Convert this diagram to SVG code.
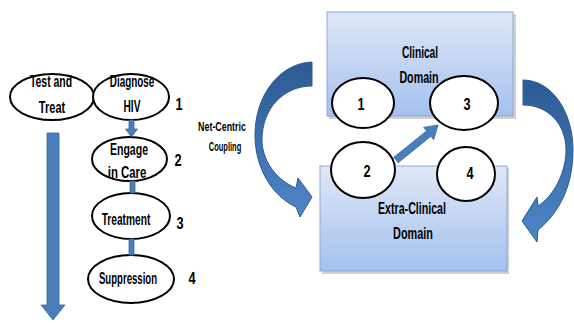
<svg xmlns="http://www.w3.org/2000/svg" width="574" height="323" viewBox="0 0 574 323">
<defs>
<linearGradient id="boxg" x1="0" y1="0" x2="0" y2="1">
<stop offset="0" stop-color="#dfe8f7"/>
<stop offset="1" stop-color="#a4c1ee"/>
</linearGradient>
<linearGradient id="curveL" x1="0" y1="0" x2="0" y2="1">
<stop offset="0" stop-color="#2c5a93"/>
<stop offset="1" stop-color="#4f86c8"/>
</linearGradient>
<linearGradient id="curveR" x1="0" y1="0" x2="0" y2="1">
<stop offset="0" stop-color="#2c5a93"/>
<stop offset="1" stop-color="#4f86c8"/>
</linearGradient>
<style>
.t{font-family:"Liberation Sans",Arial,sans-serif;font-weight:bold;font-size:17px;fill:#000;text-anchor:middle}
.s{font-family:"Liberation Sans",Arial,sans-serif;font-weight:bold;font-size:12.5px;fill:#000;text-anchor:middle}
.ell{fill:#fff;stroke:#000;stroke-width:2}
.box{fill:url(#boxg);stroke:#8fa9d2;stroke-width:1}
.shadow{fill:#9a9a9a;opacity:0.45}
.blue{fill:#4a7ebb;stroke:#3a679e;stroke-width:0.8}
</style>
</defs>
<rect width="574" height="323" fill="#fff"/>

<!-- Left chain nodes -->
<g id="test-and-treat">
<ellipse class="ell" cx="52" cy="97" rx="42" ry="23"/>
<text class="t" transform="translate(51,87) scale(0.615,1)">Test and</text>
<text class="t" transform="translate(52,113) scale(0.65,1)">Treat</text>
</g>
<g id="diagnose-hiv">
<ellipse class="ell" cx="131" cy="97" rx="38" ry="23"/>
<text class="t" transform="translate(132,87) scale(0.58,1)">Diagnose</text>
<text class="t" transform="translate(132,112) scale(0.6,1)">HIV</text>
<text class="t" transform="translate(179,110) scale(0.75,1)">1</text>
</g>
<g id="engage-in-care">
<ellipse class="ell" cx="129.5" cy="159" rx="37.5" ry="22"/>
<text class="t" transform="translate(129,155) scale(0.62,1)">Engage</text>
<text class="t" transform="translate(127,178) scale(0.67,1)">in Care</text>
<text class="t" transform="translate(178,166) scale(0.75,1)">2</text>
</g>
<g id="treatment">
<ellipse class="ell" cx="131" cy="216" rx="39" ry="23"/>
<text class="t" transform="translate(126,225) scale(0.6,1)">Treatment</text>
<text class="t" transform="translate(180,229) scale(0.75,1)">3</text>
</g>
<g id="suppression">
<ellipse class="ell" cx="131" cy="279" rx="43" ry="24"/>
<text class="t" transform="translate(128,284) scale(0.565,1)">Suppression</text>
<text class="t" transform="translate(192,284) scale(0.75,1)">4</text>
</g>

<g id="net-centric-label">
<text class="s" transform="translate(222,131) scale(0.71,1)">Net-Centric</text>
<text class="s" transform="translate(225,151) scale(0.6,1)">Coupling</text>
</g>

<!-- Domain boxes -->
<g id="clinical-domain">
<rect class="shadow" x="329" y="14" width="187" height="105"/>
<rect class="box" x="327" y="12" width="186" height="104"/>
<text class="t" transform="translate(420,58) scale(0.6,1)">Clinical</text>
<text class="t" transform="translate(419,83) scale(0.63,1)">Domain</text>
</g>
<g id="extra-clinical-domain">
<rect class="shadow" x="322" y="168" width="187" height="106"/>
<rect class="box" x="320" y="166" width="187" height="105"/>
<text class="t" transform="translate(412,214) scale(0.626,1)">Extra-Clinical</text>
<text class="t" transform="translate(413,239) scale(0.64,1)">Domain</text>
</g>

<!-- Circles -->
<g id="c1">
<ellipse class="ell" cx="363" cy="103" rx="31" ry="25"/>
<text class="t" transform="translate(361,110) scale(0.75,1)">1</text>
</g>
<g id="c3">
<ellipse class="ell" cx="464" cy="103" rx="34" ry="27"/>
<text class="t" transform="translate(467,110) scale(0.75,1)">3</text>
</g>
<g id="c2">
<ellipse class="ell" cx="363" cy="170" rx="32" ry="28"/>
<text class="t" transform="translate(367,177) scale(0.75,1)">2</text>
</g>
<g id="c4">
<ellipse class="ell" cx="466" cy="174" rx="29" ry="27"/>
<text class="t" transform="translate(470,179) scale(0.75,1)">4</text>
</g>

<!-- Connectors -->
<g id="connectors">
<path class="blue" d="M129,120 L134,120 L134,129 L137.5,129 L131.5,137 L125.5,129 L129,129 Z"/>
<rect class="blue" x="130" y="181" width="5" height="12"/>
<rect class="blue" x="129" y="239" width="5" height="16"/>
<path class="blue" d="M47,133 L59,133 L59,305 L65,305 L53,320 L41,305 L47,305 Z"/>
<path fill="url(#curveL)" stroke="#2f5a90" stroke-width="1" d="M312,62 C280,63 255,95 255,135 C255,168 272,196 296,207 L300,217 L312,197 L298,178 L296,188 C276,180 262,160 262,140 C262,108 284,86 312,86 Z"/>
<path fill="url(#curveR)" stroke="#2f5a90" stroke-width="1" d="M523,80 C552,80 573,112 573,150 C573,185 560,212 538,230 L537,242 L522,221 L537,197 L538,206 C554,196 566,172 566,150 C566,124 548,105 523,105 Z"/>
<path class="blue" d="M393.8,157.3 L426.5,130.9 L423.7,127.4 L438,125 L433.7,139.8 L430.9,136.3 L398.2,162.7 Z"/>
</g>
</svg>
